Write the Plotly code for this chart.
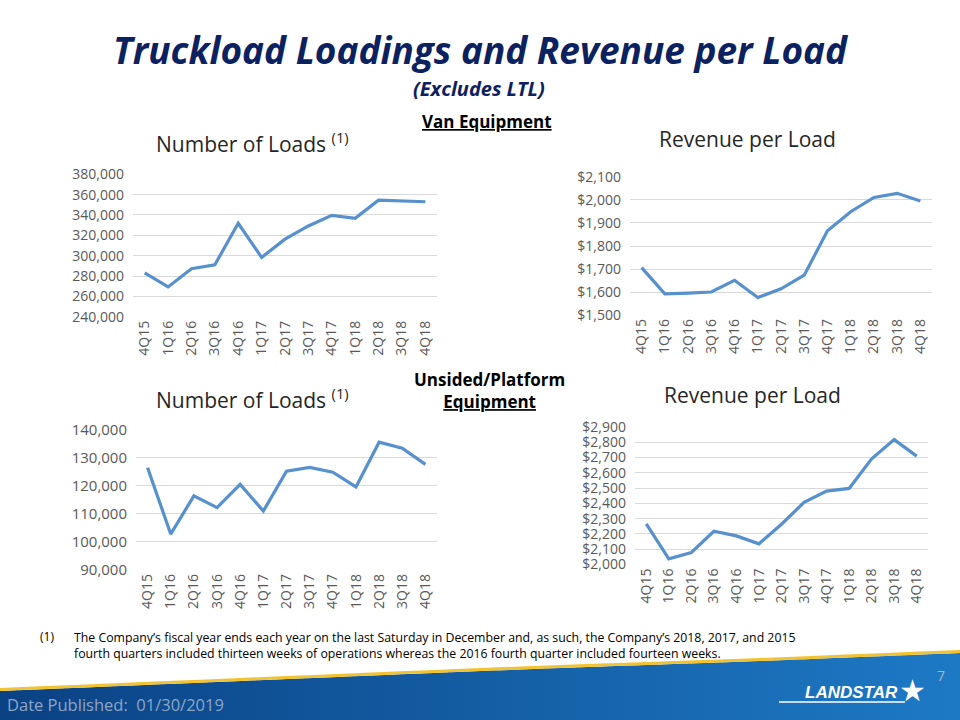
import plotly.graph_objects as go
import numpy as np

# ---------------- data ----------------
quarters = ["4Q15", "1Q16", "2Q16", "3Q16", "4Q16", "1Q17", "2Q17",
            "3Q17", "4Q17", "1Q18", "2Q18", "3Q18", "4Q18"]

van_loads = [283000, 269300, 287200, 291100, 331800, 298300, 316200,
             329200, 339600, 336700, 354600, 353600, 353000]
van_rpl = [1706, 1592, 1595, 1600, 1651, 1576, 1614,
           1673, 1866, 1949, 2011, 2029, 1996]
flat_loads = [126400, 102800, 116400, 112200, 120500, 111000, 125200,
              126500, 124800, 119600, 135500, 133400, 127600]
flat_rpl = [2265, 2037, 2078, 2217, 2187, 2135, 2263,
            2406, 2480, 2498, 2691, 2817, 2709]

W, H = 960, 720
def px(x):
    return x / W
def py(y):
    return 1 - y / H

LINE = "#5791cd"
GRID = "#d9d9d9"
TICK = "#595959"
FONT = "Open Sans"

fig = go.Figure()

panels = [
    # (data, xdomain px, ydomain px(top,bottom), range, dtick, prefix, ticksize)
    (van_loads, (133, 437), (174, 317), (240000, 380000), 20000, "", 14),
    (van_rpl, (630, 932), (176.7, 315.3), (1500, 2100), 100, "$", 14),
    (flat_loads, (136, 437), (429.3, 570.3), (90000, 140000), 10000, "", 15),
    (flat_rpl, (635, 928), (426.7, 564.7), (2000, 2900), 100, "$", 14),
]

for i, (vals, (x0, x1), (yt, yb), rng, dt, pre, ts) in enumerate(panels, start=1):
    xa = "x" if i == 1 else f"x{i}"
    ya = "y" if i == 1 else f"y{i}"
    fig.add_trace(go.Scatter(x=quarters, y=vals, mode="lines",
                             line=dict(color=LINE, width=3.2),
                             xaxis=xa, yaxis=ya, showlegend=False,
                             hoverinfo="x+y"))
    xkey = "xaxis" if i == 1 else f"xaxis{i}"
    ykey = "yaxis" if i == 1 else f"yaxis{i}"
    span = rng[1] - rng[0]
    fig.update_layout({
        xkey: dict(domain=[px(x0), px(x1)], anchor=ya, type="category",
                   range=[-0.5, len(quarters) - 0.5], tickangle=-90,
                   showgrid=False, zeroline=False, showline=False,
                   automargin=False,
                   ticks="", tickfont=dict(family=FONT, size=14, color=TICK),
                   fixedrange=True),
        ykey: dict(domain=[py(yb), py(yt)], anchor=xa,
                   range=[rng[0] - span * 0.002, rng[1] + span * 0.002],
                   tick0=rng[0], dtick=dt, tickprefix=pre, tickformat=",",
                   showgrid=True, gridcolor=GRID, gridwidth=1.2,
                   zeroline=False, showline=False, ticks="",
                   automargin=False, ticklabelstandoff=8,
                   tickfont=dict(family=FONT, size=ts, color=TICK),
                   fixedrange=True),
    })

annotations = []
def text(x, y, s, size, color="#000000", family=FONT, xanchor="center",
         yanchor="middle", align="center"):
    annotations.append(dict(x=px(x), y=py(y), xref="paper", yref="paper",
                            text=s, showarrow=False, xanchor=xanchor,
                            yanchor=yanchor, align=align,
                            font=dict(family=family, size=size, color=color)))

NAVY = "#0c2160"
text(481, 50, "<b><i>Truckload Loadings and Revenue per Load</i></b>", 37, NAVY)
text(479, 88, "<b><i>(Excludes LTL)</i></b>", 20, NAVY)
text(487, 121, "<b><u>Van Equipment</u></b>", 17)
text(489, 391, "<b>Unsided/Platform<br><u>Equipment</u></b>", 17)

text(252, 143, "Number of Loads <sup>(1)</sup>", 21, "#262626")
text(747, 139, "Revenue per Load", 21, "#262626")
text(252, 398, "Number of Loads <sup>(1)</sup>", 21, "#262626")
text(752, 395, "Revenue per Load", 21, "#262626")

text(38, 636, "(1)", 12, xanchor="left")
text(72, 645, "The Company’s fiscal year ends each year on the last Saturday in December and, as such, the Company’s 2018, 2017, and 2015<br>"
     "fourth quarters included thirteen weeks of operations whereas the 2016 fourth quarter included fourteen weeks.",
     12.3, xanchor="left", align="left")

# footer band (decoration)
cx = np.array([0, 240, 480, 560, 760, 960])
cy = np.array([691, 681, 671, 668, 661, 653])
def curve(x):
    return float(np.interp(x, cx, cy))

c0 = np.array([11, 66, 132])
c1 = np.array([30, 122, 197])
shapes = []
n = 60
for k in range(n):
    xa0 = W * k / n
    xa1 = W * (k + 1) / n + 0.8
    t = (k + 0.5) / n
    c = (c0 + (c1 - c0) * t).astype(int)
    col = f"rgb({c[0]},{c[1]},{c[2]})"
    path = (f"M {px(xa0)} {py(curve(xa0))} L {px(xa1)} {py(curve(xa1))} "
            f"L {px(xa1)} 0 L {px(xa0)} 0 Z")
    shapes.append(dict(type="path", xref="paper", yref="paper", path=path,
                       fillcolor=col, line=dict(width=0), layer="below"))
gold_path = "M " + " L ".join(f"{px(x)} {py(curve(x) - 1.5)}" for x in np.linspace(0, W, 25))
shapes.append(dict(type="path", xref="paper", yref="paper", path=gold_path,
                   line=dict(color="#f1c232", width=3)))
# logo swoosh
shapes.append(dict(type="line", xref="paper", yref="paper",
                   x0=px(779), x1=px(905), y0=py(702), y1=py(702),
                   line=dict(color="white", width=1.5)))

text(5, 704, "Date Published:  01/30/2019", 16.5, "#8ea6c6", xanchor="left")
text(851, 692, "<b><i>LANDSTAR</i></b>", 17, "white", family="Liberation Sans")
text(912, 690, "★", 30, "white", family="DejaVu Sans")
text(941, 675, "7", 14, "#aab4c4")

fig.update_layout(width=W, height=H,
                  margin=dict(l=0, r=0, t=0, b=0, pad=0, autoexpand=False),
                  paper_bgcolor="white", plot_bgcolor="white",
                  annotations=annotations, shapes=shapes, showlegend=False)

fig.write_html("out.html", config={"displayModeBar": False},
               post_script="document.body.style.margin='0';document.body.style.overflow='hidden';")
